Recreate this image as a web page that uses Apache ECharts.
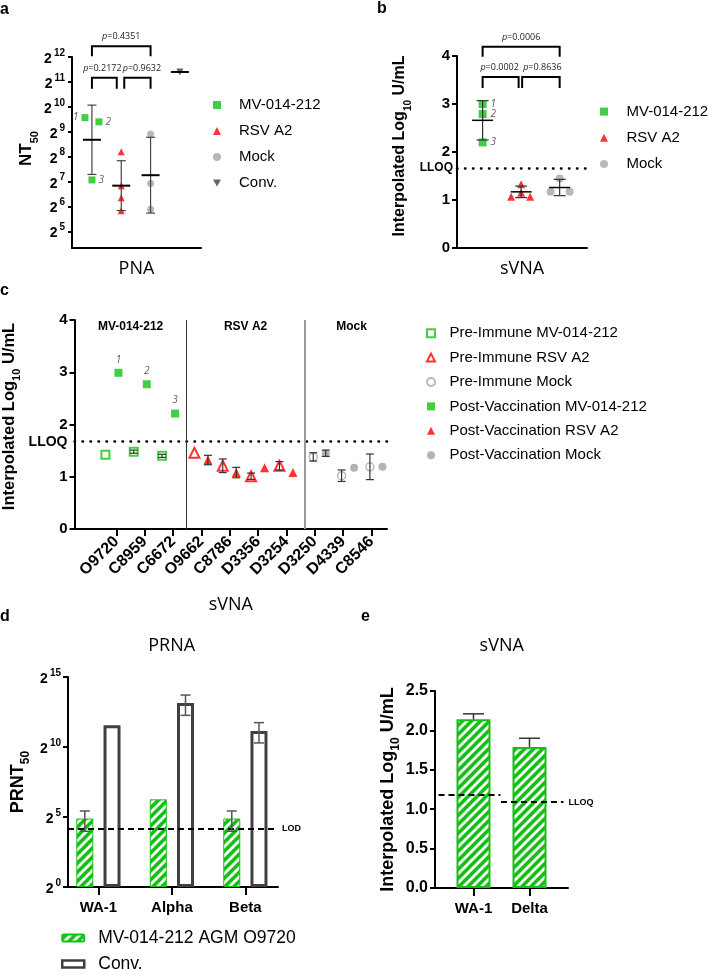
<!DOCTYPE html>
<html><head><meta charset="utf-8">
<script src="https://cdn.jsdelivr.net/npm/echarts@6/dist/echarts.min.js"></script>
<style>html,body{margin:0;padding:0;background:#fff}#c{width:710px;height:975px}</style>
</head><body><div id="c"></div>
<script>
// ================= DATA =================
// Panel a – PNA, NT50 (log2 exponent)
const groupsA = ['MV-014-212', 'RSV A2', 'Mock', 'Conv.'];
const pnaMV = [9.57, 9.40, 7.07];
const pnaRSV = [8.20, 6.84, 6.36, 5.83];
const pnaMock = [8.91, 6.93, 5.89];
const pnaConv = [11.40];
const pnaMean = [8.68, 6.84, 7.26, 11.40];
const pnaSD = [1.39, 1.00, 1.52, 0];
const pnaP = ['p=0.4351', 'p=0.2172', 'p=0.9632'];
const yTicksA = [5, 6, 7, 8, 9, 10, 11, 12];
const animalLabels = ['1', '2', '3'];

// Panel b – sVNA (Interpolated Log10 U/mL)
const groupsB = ['MV-014-212', 'RSV A2', 'Mock'];
const svnaMV = [3.00, 2.79, 2.20];
const svnaRSV = [1.07, 1.33, 1.15, 1.07];
const svnaMock = [1.17, 1.45, 1.17];
const svnaMean = [2.66, 1.17, 1.26];
const svnaSD = [0.41, 0.12, 0.17];
const svnaP = ['p=0.0006', 'p=0.0002', 'p=0.8636'];
const lloq = 1.67;

// Panel c – sVNA per animal
const animals = ['O9720', 'C8959', 'C6672', 'O9662', 'C8786', 'D3356', 'D3254', 'D3250', 'D4339', 'C8546'];
const animalGroup = [0, 0, 0, 1, 1, 1, 1, 2, 2, 2];
const groupsC = ['MV-014-212', 'RSV A2', 'Mock'];
const preVals = [1.42, 1.48, 1.40, 1.46, 1.21, 1.01, 1.21, 1.38, 1.02, 1.19];
const preSD = [0, 0.03, 0.03, 0, 0.13, 0.06, 0.08, 0.08, 0.11, 0.245];
const postVals = [2.99, 2.77, 2.21, 1.32, 1.08, 1.17, 1.08, 1.45, 1.17, 1.19];
const postSD = [0, 0, 0, 0.09, 0.10, 0, 0, 0.06, 0, 0];
const preNames = ['Pre-Immune MV-014-212', 'Pre-Immune RSV A2', 'Pre-Immune Mock'];
const postNames = ['Post-Vaccination MV-014-212', 'Post-Vaccination RSV A2', 'Post-Vaccination Mock'];

// Panel d – PRNA, PRNT50 (log2 exponent)
const variantsD = ['WA-1', 'Alpha', 'Beta'];
const prntMV = [4.89, 6.26, 4.89];
const prntMVlo = [3.98, null, 3.98];
const prntMVhi = [5.43, null, 5.43];
const prntConv = [11.55, 13.14, 11.14];
const prntConvLo = [null, 12.26, 10.29];
const prntConvHi = [null, 13.71, 11.74];
const lod = 4.17;

// Panel e – sVNA variants
const variantsE = ['WA-1', 'Delta'];
const svnaE = [2.14, 1.79];
const svnaEerr = [0.07, 0.11];
const lloqE = [1.185, 1.09];

// ================= STYLE =================
const FONT = '"Liberation Sans", Arial, sans-serif';
const FONT2 = '"Open Sans", sans-serif';
const GREEN = '#14c014', RED = '#ff0000', GREY = '#a6a6a6', DARK = '#404040';
const AXL = { show: true, onZero: false, lineStyle: { color: '#000', width: 2 } };
const jitA = [[-7, 7, 0], [0, 0, 0, 0], [0, 0, 0], [0]];
const labPosA = ['left', 'right', 'right'];
const jitB = [[0, 0, 0], [-10, 0, 0, 9], [-9, 0, 10]];
const offPre = [-11, -7, -1.5];
const offPost = [2, 6.5, 11];
const sepC = [2.48, 6.64];
const groupLabelPosC = [0.5, 4.56, 8.3];

function hatch() {
  const S = 9;
  const c = document.createElement('canvas'); c.width = S; c.height = S;
  const g = c.getContext('2d');
  g.fillStyle = GREEN; g.fillRect(0, 0, S, S);
  g.strokeStyle = '#fff'; g.lineWidth = 2.8;
  g.beginPath();
  g.moveTo(-1, S + 1); g.lineTo(S + 1, -1);
  g.moveTo(-2, 2); g.lineTo(2, -2);
  g.moveTo(S - 2, S + 2); g.lineTo(S + 2, S - 2);
  g.stroke();
  return c;
}
const HATCH = { image: hatch(), repeat: 'repeat' };

const supRich = {
  b: { fontSize: 14, fontWeight: 'bold', fontFamily: FONT, color: '#000', lineHeight: 18, verticalAlign: 'bottom' },
  s: { fontSize: 10, fontWeight: 'bold', fontFamily: FONT, color: '#000', lineHeight: 10, verticalAlign: 'top', padding: [0, 0, 0, 2] }
};
function subRich(size) {
  return {
    t: { fontSize: size, fontWeight: 'bold', fontFamily: FONT, color: '#000', lineHeight: size + 5, verticalAlign: 'top' },
    s: { fontSize: Math.round(size * 0.65), fontWeight: 'bold', fontFamily: FONT, color: '#000', lineHeight: 10, verticalAlign: 'bottom' }
  };
}
const ptLabStyle = { fontSize: 10, fontStyle: 'italic', fontFamily: FONT2, color: '#333' };

function errSeries(gi, items, st) {
  return {
    type: 'custom', xAxisIndex: gi, yAxisIndex: gi, z: 5, silent: true,
    data: items.map(it => [it.x, it.mean != null ? it.mean : it.hi]),
    renderItem: function (params, api) {
      const it = items[params.dataIndex];
      const dx = (it.dx || 0) + (st.dx || 0);
      const ch = [];
      if (it.hi != null && it.lo != null && it.hi !== it.lo) {
        const t = api.coord([it.x, it.hi]), b = api.coord([it.x, it.lo]);
        const X = t[0] + dx;
        const ls = { stroke: st.color, lineWidth: st.width };
        ch.push({ type: 'line', shape: { x1: X, y1: t[1], x2: X, y2: b[1] }, style: ls });
        ch.push({ type: 'line', shape: { x1: X - st.cap / 2, y1: t[1], x2: X + st.cap / 2, y2: t[1] }, style: ls });
        if (st.bottomCap !== false)
          ch.push({ type: 'line', shape: { x1: X - st.cap / 2, y1: b[1], x2: X + st.cap / 2, y2: b[1] }, style: ls });
      }
      if (it.mean != null && st.meanW) {
        const m = api.coord([it.x, it.mean]);
        ch.push({ type: 'line', shape: { x1: m[0] + dx - st.meanW / 2, y1: m[1], x2: m[0] + dx + st.meanW / 2, y2: m[1] },
          style: { stroke: '#000', lineWidth: st.meanLW } });
      }
      return { type: 'group', children: ch };
    }
  };
}

function scat(name, gi, data, symbol, size, itemStyle, extra) {
  return Object.assign({ type: 'scatter', name: name, xAxisIndex: gi, yAxisIndex: gi, symbol: symbol,
    symbolSize: size, itemStyle: itemStyle, data: data, z: 4, silent: true }, extra || {});
}

// ================= SERIES =================
const series = [];
// Panel a
const styA = [{ color: GREEN }, { color: RED }, { color: GREY }, { color: DARK }];
const symA = ['rect', 'triangle', 'circle', 'triangle'];
const valsA = [pnaMV, pnaRSV, pnaMock, pnaConv];
valsA.forEach((arr, g) => {
  series.push(scat(groupsA[g], 0, arr.map((v, i) => {
    const d = { value: [g, v], symbolOffset: [jitA[g][i], 0] };
    if (g === 0) d.label = Object.assign({ show: true, formatter: animalLabels[i], position: labPosA[i], distance: 3 }, ptLabStyle);
    return d;
  }), symA[g], 7, styA[g], g === 3 ? { symbolRotate: 180 } : {}));
});
series.push(errSeries(0, pnaMean.map((m, g) => ({ x: g, mean: m, lo: m - pnaSD[g], hi: m + pnaSD[g] })),
  { color: '#444', width: 1.2, cap: 9, meanW: 18, meanLW: 2 }));

// Panel b
const valsB = [svnaMV, svnaRSV, svnaMock];
valsB.forEach((arr, g) => {
  const s = scat(groupsB[g], 1, arr.map((v, i) => {
    const d = { value: [g, v], symbolOffset: [jitB[g][i], 0] };
    if (g === 0) d.label = Object.assign({ show: true, formatter: animalLabels[i], position: 'right', distance: 4 }, ptLabStyle);
    return d;
  }), symA[g], 8, styA[g]);
  if (g === 0) s.markLine = {
    silent: true, symbol: ['none', 'none'], animation: false,
    data: [{ yAxis: lloq }],
    lineStyle: { color: '#000', width: 2.5, type: [0.5, 7.5], cap: 'round' },
    label: { show: true, position: 'start', formatter: 'LLOQ', fontWeight: 'bold', fontSize: 12, fontFamily: FONT, color: '#000', distance: 4 }
  };
  series.push(s);
});
series.push(errSeries(1, svnaMean.map((m, g) => ({ x: g, mean: m, lo: m - svnaSD[g], hi: m + svnaSD[g] })),
  { color: '#333', width: 1.2, cap: 12, meanW: 21, meanLW: 1.5 }));

// Panel c
const preSty = [
  { color: '#fff', borderColor: GREEN, borderWidth: 2 },
  { color: '#fff', borderColor: RED, borderWidth: 2 },
  { color: '#fff', borderColor: GREY, borderWidth: 1.5 }];
const postSty = [{ color: GREEN }, { color: RED }, { color: '#a0a0a0' }];
const symC = ['rect', 'triangle', 'circle'];
const errItemsC = [];
[0, 1, 2].forEach(g => {
  const idx = animals.map((a, i) => i).filter(i => animalGroup[i] === g);
  const pre = scat(preNames[g], 2, idx.map(i => ({ value: [i, preVals[i]], symbolOffset: [offPre[g], 0] })), symC[g], g === 1 ? 10 : 8, preSty[g]);
  if (g === 0) pre.markLine = {
    silent: true, symbol: ['none', 'none'], animation: false,
    data: [
      { yAxis: lloq, lineStyle: { color: '#000', width: 2.5, type: [0.5, 7.5], cap: 'round' },
        label: { show: true, position: 'start', formatter: 'LLOQ', fontWeight: 'bold', fontSize: 14, fontFamily: FONT, color: '#000', distance: 7 } },
      { xAxis: sepC[0], lineStyle: { color: '#333', width: 1, type: 'solid' }, label: { show: false } },
      { xAxis: sepC[1], lineStyle: { color: '#999', width: 2, type: 'solid' }, label: { show: false } }
    ]
  };
  series.push(pre);
  idx.forEach(i => {
    if (preSD[i] > 0) errItemsC.push({ x: i, lo: preVals[i] - preSD[i], hi: preVals[i] + preSD[i], dx: offPre[g] });
    if (postSD[i] > 0) errItemsC.push({ x: i, lo: postVals[i] - postSD[i], hi: postVals[i] + postSD[i], dx: offPost[g] });
  });
});
[0, 1, 2].forEach(g => {
  const idx = animals.map((a, i) => i).filter(i => animalGroup[i] === g);
  series.push(scat(postNames[g], 2, idx.map((i, k) => {
    const d = { value: [i, postVals[i]], symbolOffset: [offPost[g], 0] };
    if (g === 0) d.label = Object.assign({ show: true, formatter: animalLabels[k], position: 'top', distance: 4 }, ptLabStyle);
    return d;
  }), symC[g], g === 1 ? 9 : 8, postSty[g]));
});
series.push(errSeries(2, errItemsC, { color: '#333', width: 1.2, cap: 8 }));

// Panel d
series.push({
  type: 'bar', name: 'MV-014-212 AGM O9720', xAxisIndex: 3, yAxisIndex: 3, barWidth: 17, barGap: '60%', silent: true,
  itemStyle: { color: HATCH, borderColor: GREEN, borderWidth: 1 },
  data: prntMV.map((v, i) => [i, v]),
  markLine: {
    silent: true, symbol: ['none', 'none'], animation: false,
    data: [{ yAxis: lod }],
    lineStyle: { color: '#000', width: 2, type: [6, 4] },
    label: { show: true, position: 'end', formatter: 'LOD', fontWeight: 'bold', fontSize: 9, fontFamily: FONT, color: '#000', distance: 4 }
  }
});
series.push({
  type: 'bar', name: 'Conv. ', xAxisIndex: 3, yAxisIndex: 3, barWidth: 17, barGap: '60%', silent: true,
  itemStyle: { color: '#fff', borderColor: DARK, borderWidth: 3 },
  data: prntConv.map((v, i) => [i, v])
});
const dBar = (17 + 17 * 0.6) / 2;
series.push(errSeries(3, prntMV.map((v, i) => ({ x: i, lo: prntMVlo[i], hi: prntMVhi[i] })),
  { color: '#555', width: 1.5, cap: 10, dx: -dBar }));
series.push(errSeries(3, prntConv.map((v, i) => ({ x: i, lo: prntConvLo[i], hi: prntConvHi[i] })),
  { color: '#555', width: 1.5, cap: 10, dx: dBar }));

// Panel e
series.push({
  type: 'bar', name: 'sVNA variants', xAxisIndex: 4, yAxisIndex: 4, barWidth: 34, silent: true,
  itemStyle: { color: HATCH, borderColor: GREEN, borderWidth: 2 },
  data: svnaE.map((v, i) => [i, v]),
  markLine: {
    silent: true, symbol: ['none', 'none'], animation: false,
    lineStyle: { color: '#000', width: 2, type: [6, 4] },
    data: [
      [{ coord: [-0.625, lloqE[0]], label: { show: false } }, { coord: [0.48, lloqE[0]] }],
      [{ coord: [0.49, lloqE[1]], label: { show: true, position: 'end', formatter: 'LLOQ', fontWeight: 'bold', fontSize: 9, fontFamily: FONT, color: '#000', distance: 5 } }, { coord: [1.607, lloqE[1]] }]
    ],
    label: { show: true, position: 'end', formatter: 'LLOQ', fontWeight: 'bold', fontSize: 9, fontFamily: FONT, color: '#000', distance: 5 }
  }
});
series.push(errSeries(4, svnaE.map((v, i) => ({ x: i, lo: v, hi: v + svnaEerr[i] })),
  { color: '#333', width: 1.5, cap: 21, bottomCap: false }));

// ================= AXES =================
const noSplit = { show: false };
const xAxis = [
  { gridIndex: 0, type: 'value', min: -0.68, max: 3.72, axisLine: AXL, axisTick: { show: false }, axisLabel: { show: false }, splitLine: noSplit,
    name: 'PNA', nameLocation: 'middle', nameGap: 12, nameTextStyle: { fontFamily: FONT2, fontSize: 18, color: '#000' } },
  { gridIndex: 1, type: 'value', min: -0.665, max: 2.71, axisLine: AXL, axisTick: { show: false }, axisLabel: { show: false }, splitLine: noSplit,
    name: 'sVNA', nameLocation: 'middle', nameGap: 12, nameTextStyle: { fontFamily: FONT2, fontSize: 18, color: '#000' } },
  { gridIndex: 2, type: 'value', min: -1.48, max: 9.55, axisLine: AXL, splitLine: noSplit,
    axisTick: { show: true, customValues: animals.map((a, i) => i), length: 7, lineStyle: { width: 2, color: '#000' } },
    axisLabel: { customValues: animals.map((a, i) => i), formatter: v => animals[Math.round(v)], rotate: 45, margin: 10,
      fontWeight: 'bold', fontSize: 16, fontFamily: FONT, color: '#000' },
    name: 'sVNA', nameLocation: 'middle', nameGap: 67, nameTextStyle: { fontFamily: FONT2, fontSize: 18, color: '#000' } },
  { gridIndex: 3, type: 'value', min: -0.414, max: 2.444, axisLine: AXL, splitLine: noSplit,
    axisTick: { show: true, customValues: [0, 1, 2], length: 8, lineStyle: { width: 2, color: '#000' } },
    axisLabel: { customValues: [0, 1, 2], formatter: v => variantsD[Math.round(v)], margin: 13, fontWeight: 'bold', fontSize: 15, fontFamily: FONT, color: '#000' } },
  { gridIndex: 4, type: 'value', min: -0.6875, max: 1.6875, axisLine: AXL, splitLine: noSplit,
    axisTick: { show: true, customValues: [0, 1], length: 8, lineStyle: { width: 2, color: '#000' } },
    axisLabel: { customValues: [0, 1], formatter: v => variantsE[Math.round(v)], margin: 13, fontWeight: 'bold', fontSize: 15, fontFamily: FONT, color: '#000' } }
];
const yAxis = [
  { gridIndex: 0, type: 'value', min: 4.34, max: 12, axisLine: AXL, splitLine: noSplit,
    axisTick: { show: true, customValues: yTicksA, length: 4, lineStyle: { width: 2, color: '#000' } },
    axisLabel: { customValues: yTicksA, formatter: v => '{b|2}{s|' + Math.round(v) + '}', rich: supRich, margin: 7 },
    name: '{t|NT}{s|50}', nameLocation: 'middle', nameGap: 31, nameTextStyle: { rich: subRich(17), padding: [0, 0, 0, 8] } },
  { gridIndex: 1, type: 'value', min: 0, max: 4, interval: 1, axisLine: AXL, splitLine: noSplit,
    axisTick: { show: true, length: 5, lineStyle: { width: 2, color: '#000' } },
    axisLabel: { margin: 7, fontWeight: 'bold', fontSize: 15, fontFamily: FONT, color: '#000' },
    name: '{t|Interpolated Log}{s|10}{t| U/mL}', nameLocation: 'middle', nameGap: 44, nameTextStyle: { rich: subRich(16), padding: [0, 0, 0, 12] } },
  { gridIndex: 2, type: 'value', min: 0, max: 4, interval: 1, axisLine: AXL, splitLine: noSplit,
    axisTick: { show: true, length: 5, lineStyle: { width: 2, color: '#000' } },
    axisLabel: { margin: 7, fontWeight: 'bold', fontSize: 15, fontFamily: FONT, color: '#000' },
    name: '{t|Interpolated Log}{s|10}{t| U/mL}', nameLocation: 'middle', nameGap: 52, nameTextStyle: { rich: subRich(16.5), padding: [0, 0, 0, 16] } },
  { gridIndex: 3, type: 'value', min: 0, max: 15, interval: 5, axisLine: AXL, splitLine: noSplit,
    axisTick: { show: true, length: 5, lineStyle: { width: 2, color: '#000' } },
    axisLabel: { formatter: v => '{b|2}{s|' + Math.round(v) + '}', rich: supRich, margin: 7 },
    name: '{t|PRNT}{s|50}', nameLocation: 'middle', nameGap: 36, nameTextStyle: { rich: subRich(18) } },
  { gridIndex: 4, type: 'value', min: 0, max: 2.5, interval: 0.5, axisLine: AXL, splitLine: noSplit,
    axisTick: { show: true, length: 5, lineStyle: { width: 2, color: '#000' } },
    axisLabel: { margin: 7, fontWeight: 'bold', fontSize: 16, fontFamily: FONT, color: '#000', formatter: v => v.toFixed(1) },
    name: '{t|Interpolated Log}{s|10}{t| U/mL}', nameLocation: 'middle', nameGap: 33, nameTextStyle: { rich: subRich(18) } }
];

const legTxt = (size, lh, pad) => ({ fontFamily: FONT, fontSize: size, color: '#000', lineHeight: lh, padding: [0, 0, 0, pad] });
const legend = [
  { left: 213, top: 92, orient: 'vertical', padding: 0, itemGap: 0, itemWidth: 8, itemHeight: 8, selectedMode: false,
    data: groupsA.slice(0, 3).concat([{ name: 'Conv.', icon: 'path://M0,0L10,0L5,9Z' }]), textStyle: legTxt(15, 26, 13) },
  { left: 600, top: 98.5, orient: 'vertical', padding: 0, itemGap: 0, itemWidth: 8, itemHeight: 8, selectedMode: false,
    data: groupsB, textStyle: legTxt(15, 26.2, 13.5) },
  { left: 426, top: 321, orient: 'vertical', padding: 0, itemGap: 0, itemWidth: 8, itemHeight: 8, selectedMode: false,
    data: preNames.concat(postNames), textStyle: legTxt(15, 24.4, 9.5) },
  { left: 61, top: 928, orient: 'vertical', padding: 0, itemGap: 6, itemWidth: 22, itemHeight: 7, selectedMode: false,
    data: [{ name: 'MV-014-212 AGM O9720' },
           { name: 'Conv. ', icon: 'rect', itemStyle: { color: '#fff', borderColor: DARK, borderWidth: 2.5 } }],
    formatter: n => n.trim(),
    textStyle: legTxt(17.5, 20, 9) }
];

const chart = echarts.init(document.getElementById('c'), null, { renderer: 'canvas' });
chart.setOption({
  animation: false, backgroundColor: '#fff', textStyle: { fontFamily: FONT },
  grid: [
    { left: 72, top: 57, width: 129, height: 191 },
    { left: 457, top: 56, width: 130, height: 192 },
    { left: 72, top: 320, width: 315, height: 209 },
    { left: 68, top: 677, width: 210, height: 210 },
    { left: 435, top: 691, width: 133, height: 197 }
  ],
  xAxis: xAxis, yAxis: yAxis, legend: legend, series: series
});

// ================= ANNOTATIONS =================
const px = (g, x, y) => chart.convertToPixel({ gridIndex: g }, [x, y]);
const graphic = [];
function pText(s) { return '{i|p}{n|' + s.slice(1) + '}'; }
const pRich = {
  i: { fontFamily: FONT2, fontSize: 9, fontStyle: 'italic', fill: '#222' },
  n: { fontFamily: FONT2, fontSize: 9, fill: '#222' }
};
function bracket(g, a, b, y, txt, da, db, leg, tdx) {
  const p1 = px(g, a, y), p2 = px(g, b, y);
  const x1 = p1[0] + (da || 0), x2 = p2[0] + (db || 0), Y = p1[1];
  graphic.push({ type: 'polyline', silent: true, shape: { points: [[x1, Y + leg], [x1, Y], [x2, Y], [x2, Y + leg]] },
    style: { stroke: '#000', lineWidth: 2, fill: null } });
  graphic.push({ type: 'text', silent: true, x: (x1 + x2) / 2 + (tdx || 0), y: Y - 9.5,
    style: { text: pText(txt), rich: pRich, align: 'center', verticalAlign: 'middle' } });
}
bracket(0, 0, 2, 12.43, pnaP[0], 0, 0, 10, 0);
bracket(0, 0, 1, 11.17, pnaP[1], 0, -4.5, 11, -2);
bracket(0, 1, 2, 11.17, pnaP[2], 3, 0, 11, 4.5);
bracket(1, 0, 2, 4.195, svnaP[0], 0, 0, 10, 0);
bracket(1, 0, 1, 3.56, svnaP[1], 0, -2.5, 11, -1);
bracket(1, 1, 2, 3.56, svnaP[2], 1, 0, 11, 1.5);

groupsC.forEach((name, k) => {
  const p = px(2, groupLabelPosC[k], 4);
  graphic.push({ type: 'text', silent: true, x: p[0], y: p[1] + 7,
    style: { text: name, font: 'bold 12px ' + FONT, fill: '#000', align: 'center', verticalAlign: 'middle' } });
});

function txt(s, x, y, font, align) {
  graphic.push({ type: 'text', silent: true, x: x, y: y,
    style: { text: s, font: font, fill: '#000', align: align || 'left', verticalAlign: 'middle' } });
}
const panelFont = 'bold 16px ' + FONT;
txt('a', 0, 9.5, panelFont); txt('b', 377, 8.5, panelFont); txt('c', 0, 291, panelFont);
txt('d', 0, 617, panelFont); txt('e', 361, 617, panelFont);
txt('PRNA', 171.7, 646, '18px ' + FONT2, 'center');
txt('sVNA', 501.7, 646, '18px ' + FONT2, 'center');

chart.setOption({ graphic: graphic });
</script>
</body></html>
